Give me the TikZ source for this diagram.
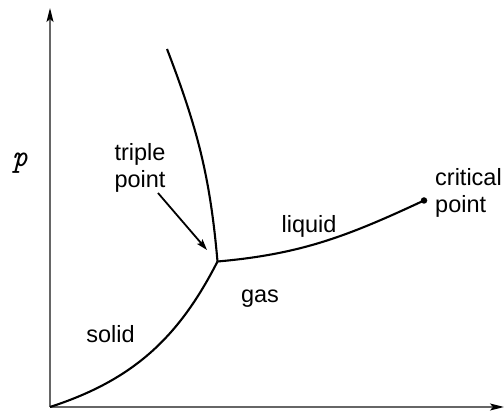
\documentclass[tikz,border=0pt]{standalone}
\usepackage{fontspec}
\setmainfont{Liberation Sans}
\usepackage{tikz}
\usetikzlibrary{arrows.meta}

\begin{document}
\begin{tikzpicture}[x=1pt, y=1pt,
  axis/.style={draw=black!60, line width=1.5pt,
    -{Stealth[length=14pt, width=7pt, inset=3pt, black]}},
  phase/.style={draw, line width=2.1pt},
  pointer/.style={draw, line width=1.8pt, -{Stealth[length=11pt, width=7pt, inset=2pt]}},
  lbl/.style={inner sep=0pt, font=\fontsize{23.5}{27.5}\selectfont}]
  \useasboundingbox (0,0) rectangle (504,415);
  % axes
  \coordinate (origin) at (50,8);
  \coordinate (ytop) at (50,407);
  \coordinate (xend) at (504,8);
  \draw[axis] (origin) -- (xend);
  \draw[axis] (origin) -- (ytop);
  \node[lbl, anchor=base, font=\fontsize{31}{33}\ttfamily\itshape] (plabel) at (20,248) {p};
  % phase boundaries
  \coordinate (triple) at (217.5,153.5);
  \coordinate (melttop) at (167,366);
  \node[circle, fill, inner sep=0pt, minimum size=6.5pt] (critical) at (424,214.5) {};
  \draw[phase] (origin) to[out=18, in=243] (triple);
  \draw[phase] (triple) to[out=95, in=-69] (melttop);
  \draw[phase] (triple) to[out=5, in=205] (critical.center);
  % labels
  \node[lbl, align=center] (triplelabel) at (140,247.3) {triple\\point};
  \node[lbl, align=left, anchor=west] (criticallabel) at (435,222.1) {critical\\point};
  \node[lbl, anchor=base] (solid) at (110.5,72) {solid};
  \node[lbl, anchor=base] (gas) at (260,112) {gas};
  \node[lbl, anchor=base] (liquid) at (309,182) {liquid};
  \coordinate (arrowtail) at (158,222);
  \coordinate (arrowhead) at (207,165);
  \draw[pointer] (arrowtail) -- (arrowhead);
\end{tikzpicture}
\end{document}
